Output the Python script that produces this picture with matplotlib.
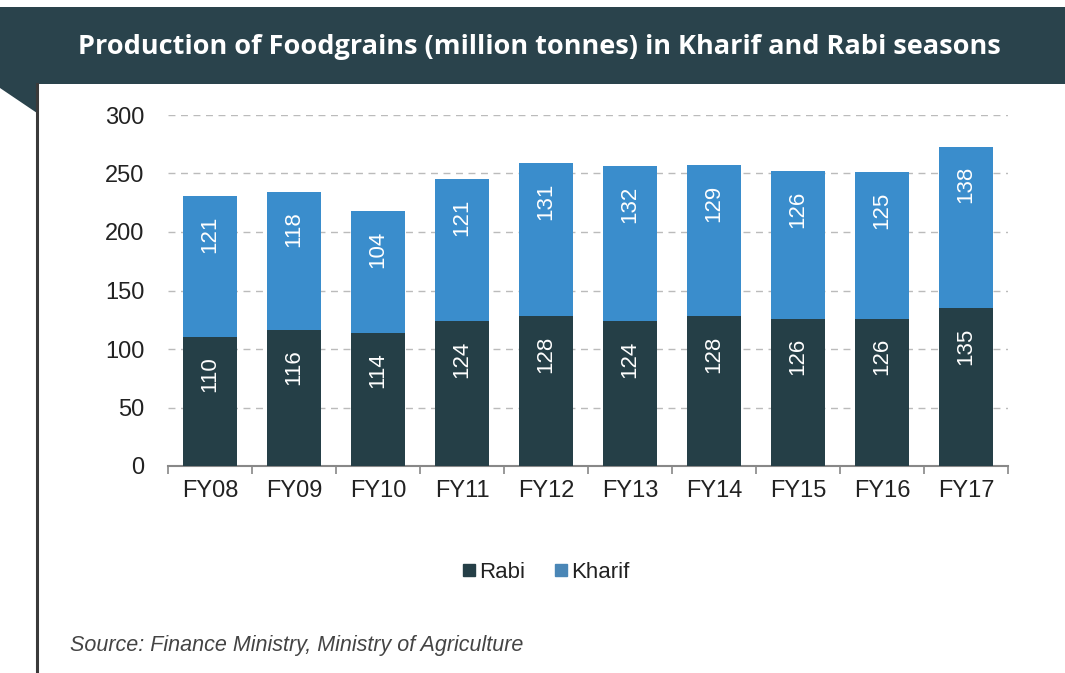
import matplotlib.pyplot as plt
from matplotlib.patches import Rectangle, Polygon
from matplotlib.lines import Line2D
import numpy as np

# data
years = ["FY08", "FY09", "FY10", "FY11", "FY12", "FY13", "FY14", "FY15", "FY16", "FY17"]
rabi = [110, 116, 114, 124, 128, 124, 128, 126, 126, 135]
kharif = [121, 118, 104, 121, 131, 132, 129, 126, 125, 138]
yticks = [0, 50, 100, 150, 200, 250, 300]

DARK = "#253f47"
BLUE = "#3a8dcc"
HEADER = "#2a434c"

plt.rcParams["font.family"] = ["Liberation Sans", "DejaVu Sans"]

W, H = 1065, 673
fig = plt.figure(figsize=(W / 100, H / 100), dpi=100)
fig.patch.set_facecolor("white")

# header band
fig.patches.append(Rectangle((0, 1 - 84 / H), 1, 77 / H, transform=fig.transFigure,
                             facecolor=HEADER, edgecolor="none"))
# small fold at left + vertical border
fig.patches.append(Polygon([(0, 1 - 84 / H), (37 / W, 1 - 84 / H), (37 / W, 1 - 113 / H), (0, 1 - 88 / H)],
                           closed=True, transform=fig.transFigure, facecolor=HEADER, edgecolor="none"))
fig.lines.append(Line2D([37 / W, 37 / W], [0, 1 - 84 / H], transform=fig.transFigure,
                        color="#3a3a3a", linewidth=2.2))

fig.text(78 / W, 1 - 47 / H, "Production of Foodgrains (million tonnes) in Kharif and Rabi seasons",
         color="white", fontsize=19.5, fontweight="bold", family=["Open Sans", "DejaVu Sans"],
         ha="left", va="center")

ax = fig.add_axes([168 / W, 1 - 466 / H, (1008 - 168) / W, (466 - 115) / H])
x = np.arange(len(years))
width = 0.65
ax.bar(x, rabi, width, color=DARK, label="Rabi", zorder=3)
ax.bar(x, kharif, width, bottom=rabi, color=BLUE, label="Kharif", zorder=3)

for i in range(len(years)):
    ax.annotate(str(rabi[i]), (x[i], rabi[i]), xytext=(0, -14), textcoords="offset points",
                rotation=90, ha="center", va="top", color="white", fontsize=16, zorder=4)
    top = rabi[i] + kharif[i]
    ax.annotate(str(kharif[i]), (x[i], top), xytext=(0, -14), textcoords="offset points",
                rotation=90, ha="center", va="top", color="white", fontsize=16, zorder=4)

ax.set_xlim(-0.5, len(years) - 0.5)
ax.set_ylim(0, 300)
ax.set_yticks(yticks)
ax.set_xticks(x)
ax.set_xticklabels(years)
ax.set_xticks(np.arange(-0.5, len(years), 1), minor=True)
ax.tick_params(axis="y", length=0, pad=17, labelsize=17, labelcolor="#222222")
ax.tick_params(axis="x", which="major", length=0, pad=10, labelsize=17, labelcolor="#222222")
ax.tick_params(axis="x", which="minor", length=6, color="#888888", width=1.2)

for s in ["top", "right", "left"]:
    ax.spines[s].set_visible(False)
ax.spines["bottom"].set_color("#888888")
ax.spines["bottom"].set_linewidth(1.5)
for v in yticks[1:]:
    ax.axhline(v, color="#bbbbbb", linestyle=(0, (5, 4)), linewidth=1, zorder=1)

handles = [Line2D([], [], marker="s", linestyle="none", markersize=9, color=DARK),
           Line2D([], [], marker="s", linestyle="none", markersize=9, color="#4a86b6")]
fig.legend(handles, ["Rabi", "Kharif"], loc="center", bbox_to_anchor=(545 / W, 1 - 572 / H),
           ncol=2, frameon=False, fontsize=16, handletextpad=0.05, columnspacing=1.2,
           handlelength=0.8, labelcolor="#222222")

fig.text(70 / W, 1 - 645 / H, "Source: Finance Ministry, Ministry of Agriculture",
         style="italic", fontsize=15.5, color="#444444", ha="left", va="center")

fig.savefig("out.png", dpi=100)
